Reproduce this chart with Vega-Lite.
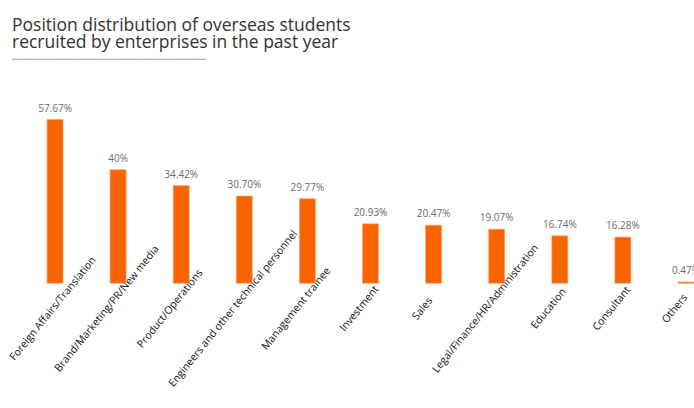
{
  "$schema": "https://vega.github.io/schema/vega-lite/v6.json",
  "autosize": {"type": "none"},
  "padding": {"left": 23.5, "top": 112.9, "right": 0, "bottom": 124.7},
  "width": 670.5,
  "height": 170.4,
  "background": "white",
  "title": {
    "text": ["Position distribution of overseas students", "recruited by enterprises in the past year"],
    "subtitle": "───────────────────────",
    "anchor": "start",
    "frame": "group",
    "dx": -11.5,
    "font": "Open Sans",
    "fontSize": 17.5,
    "fontWeight": 500,
    "color": "#333333",
    "lineHeight": 17,
    "subtitleFont": "DejaVu Sans",
    "subtitleFontSize": 14,
    "subtitleColor": "#c4aea4",
    "subtitlePadding": 1,
    "offset": 37
  },
  "data": {
    "values": [
      {"position": "Foreign Affairs/Translation", "value": 57.67, "label": "57.67%"},
      {"position": "Brand/Marketing/PR/New media", "value": 40, "label": "40%"},
      {"position": "Product/Operations", "value": 34.42, "label": "34.42%"},
      {"position": "Engineers and other technical personnel", "value": 30.70, "label": "30.70%"},
      {"position": "Management trainee", "value": 29.77, "label": "29.77%"},
      {"position": "Investment", "value": 20.93, "label": "20.93%"},
      {"position": "Sales", "value": 20.47, "label": "20.47%"},
      {"position": "Legal/Finance/HR/Administration", "value": 19.07, "label": "19.07%"},
      {"position": "Education", "value": 16.74, "label": "16.74%"},
      {"position": "Consultant", "value": 16.28, "label": "16.28%"},
      {"position": "Others", "value": 0.47, "label": "0.47%"}
    ]
  },
  "encoding": {
    "x": {
      "field": "position",
      "type": "nominal",
      "sort": null,
      "scale": {"range": [0, 694], "paddingInner": 0.5, "paddingOuter": 0.25},
      "axis": {
        "title": null,
        "domain": false,
        "ticks": false,
        "tickSize": 0,
        "grid": false,
        "labelAngle": -51,
        "labelAlign": "center",
        "labelBaseline": "middle",
        "labelPadding": 25,
        "labelOffset": {"condition": {"test": "datum.value === 'Foreign Affairs/Translation'", "value": -2}, "value": -11},
        "labelFont": "Open Sans",
        "labelFontSize": 10.5,
        "labelColor": "#111111",
        "labelOverlap": false,
        "labelLimit": 0
      }
    },
    "y": {
      "field": "value",
      "type": "quantitative",
      "scale": {"domain": [0, 60], "nice": false},
      "axis": null
    }
  },
  "layer": [
    {
      "mark": {"type": "bar", "width": 16, "color": "#fa6400", "stroke": "#f3a66a", "strokeWidth": 0.6}
    },
    {
      "mark": {"type": "text", "dy": -8, "baseline": "alphabetic", "font": "Open Sans", "fontSize": 10, "color": "#6b6b6b"},
      "encoding": {"text": {"field": "label"}}
    }
  ],
  "config": {"view": {"stroke": null}}
}
